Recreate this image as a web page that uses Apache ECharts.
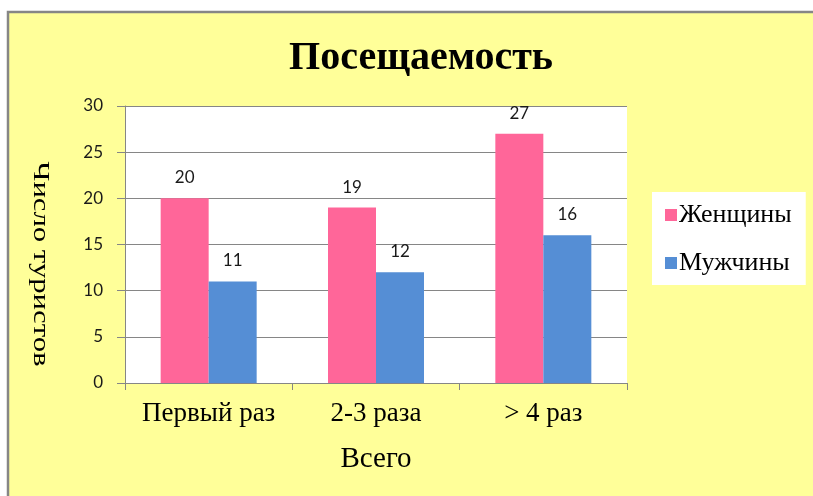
<!DOCTYPE html>
<html><head><meta charset="utf-8">
<script src="https://cdn.jsdelivr.net/npm/echarts@6/dist/echarts.min.js"></script>
<style>html,body{margin:0;padding:0;background:#fff}#c{width:813px;height:496px}</style>
</head><body><div id="c"></div>
<script>
const categories = ['Первый раз', '2-3 раза', '> 4 раз'];
const women = [20, 19, 27];
const men = [11, 12, 16];
const seriesNames = ['Женщины', 'Мужчины'];
const titleText = 'Посещаемость';
const yName = 'Число туристов';
const xName = 'Всего';

const chart = echarts.init(document.getElementById('c'), null, {renderer: 'canvas'});
const serif = '"Liberation Serif", "DejaVu Serif", serif';
const sans = 'Lato, "Open Sans", sans-serif';
const lbl = {show: true, position: 'top', distance: 12, fontFamily: sans, fontSize: 17, color: '#1a1a1a'};
chart.setOption({
  backgroundColor: '#fff',
  animation: false,
  graphic: [
    {type: 'rect', z: -10, shape: {x: 8, y: 12, width: 813, height: 496}, style: {fill: '#FFFF99', stroke: '#868686', lineWidth: 2.5}},
    {type: 'text', x: 40, y: 264, rotation: -Math.PI / 2, scaleX: 1.28,
     style: {text: yName, font: '24px ' + serif, fill: '#000', textAlign: 'center', textVerticalAlign: 'middle'}}
  ],
  title: {text: titleText, left: 416, top: 34, textAlign: 'center',
    textStyle: {fontFamily: serif, fontWeight: 'bold', fontSize: 40, color: '#000'}},
  legend: {
    orient: 'vertical', left: 652, top: 192, backgroundColor: '#fff',
    padding: [10, 14, 9, 13], itemGap: 22, itemWidth: 12, itemHeight: 12, icon: 'rect',
    textStyle: {fontFamily: serif, fontSize: 26, color: '#000', padding: [0, 0, 0, -3]},
    data: seriesNames
  },
  grid: {left: 125, right: 186, top: 106, bottom: 113, show: true, backgroundColor: '#fff', borderWidth: 0},
  xAxis: {
    type: 'category', data: categories,
    name: xName, nameLocation: 'middle', nameGap: 62,
    nameTextStyle: {fontFamily: serif, fontSize: 29, color: '#000'},
    axisLine: {lineStyle: {color: '#868686', width: 1}},
    axisTick: {show: true, length: 7, lineStyle: {color: '#868686'}},
    axisLabel: {fontFamily: serif, fontSize: 27, color: '#000', margin: 17, interval: 0, hideOverlap: false}
  },
  yAxis: {
    type: 'value', min: 0, max: 30, interval: 5,
    axisLine: {show: true, lineStyle: {color: '#868686'}},
    axisTick: {show: true, length: 8, lineStyle: {color: '#868686'}},
    axisLabel: {fontFamily: sans, fontSize: 17, color: '#1a1a1a', margin: 22},
    splitLine: {lineStyle: {color: '#868686', width: 1}}
  },
  series: [
    {name: seriesNames[0], type: 'bar', data: women, barWidth: 48, barGap: '0%',
     itemStyle: {color: '#FF6699'}, label: lbl},
    {name: seriesNames[1], type: 'bar', data: men, barWidth: 48, barGap: '0%',
     itemStyle: {color: '#558ED5'}, label: lbl}
  ]
});
</script></body></html>
